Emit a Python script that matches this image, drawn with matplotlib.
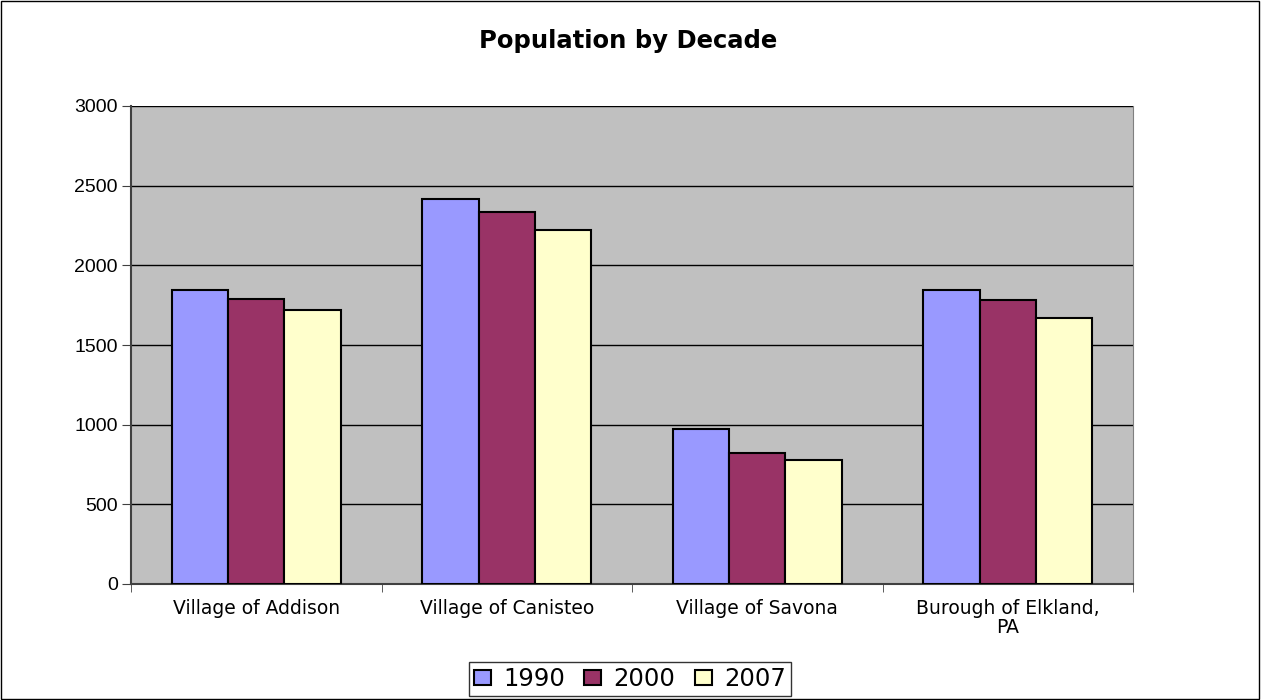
import numpy as np
import matplotlib.pyplot as plt
from matplotlib.patches import Rectangle

plt.rcParams['font.family'] = ['Liberation Sans', 'DejaVu Sans']

categories = ['Village of Addison', 'Village of Canisteo', 'Village of Savona', 'Burough of Elkland,\nPA']
years = ['1990', '2000', '2007']
pop_1990 = [1845, 2415, 970, 1845]
pop_2000 = [1790, 2335, 820, 1782]
pop_2007 = [1722, 2222, 780, 1672]
colors = ['#9999FF', '#993366', '#FFFFCC']

fig = plt.figure(figsize=(12.62, 7), dpi=100)
ax = fig.add_axes([131/1262, 1-584/700, (1133-131)/1262, (584-106)/700])
ax.set_facecolor('#C0C0C0')

x = np.arange(len(categories))
w = 0.2245
for i, (vals, c, lab) in enumerate(zip([pop_1990, pop_2000, pop_2007], colors, years)):
    ax.bar(x + (i - 1) * w, vals, w, color=c, edgecolor='black', linewidth=1.5, label=lab, zorder=3)

ax.set_xlim(-0.5, 3.5)
ax.set_ylim(0, 3000)
ax.set_yticks(range(0, 3001, 500))
ax.yaxis.grid(True, color='black', linewidth=1, zorder=0)
ax.tick_params(axis='y', labelsize=14, length=6.5, direction='out', color='#404040', pad=3)
ax.set_xticks(x)
ax.set_xticklabels(categories, fontsize=13.5, family='DejaVu Sans', linespacing=1.0)
ax.tick_params(axis='x', length=0, pad=11)
ax.set_xticks(np.arange(-0.5, 4, 1), minor=True)
ax.tick_params(axis='x', which='minor', length=6, color='#404040')

for s in ['left', 'bottom']:
    ax.spines[s].set_color('#404040')
    ax.spines[s].set_linewidth(1.5)
ax.spines['top'].set_visible(False)
ax.spines['right'].set_color('#808080')

fig.text(628/1262, 1-41/700, 'Population by Decade', ha='center', va='center',
         fontsize=17.5, fontweight='bold', family='DejaVu Sans')

leg = fig.legend(loc='center', bbox_to_anchor=(630/1262, 1-679/700), ncol=3,
                 prop={'family': 'DejaVu Sans', 'size': 17.5},
                 frameon=True, fancybox=False, edgecolor='black', handlelength=0.7, handleheight=0.6,
                 handletextpad=0.5, columnspacing=0.8, borderpad=0.2)
leg.get_frame().set_linewidth(1)

fig.patches.append(Rectangle((0.001, 0.001), 0.997, 0.997, transform=fig.transFigure,
                             fill=False, edgecolor='black', linewidth=1))

fig.savefig('out.png', dpi=100)
